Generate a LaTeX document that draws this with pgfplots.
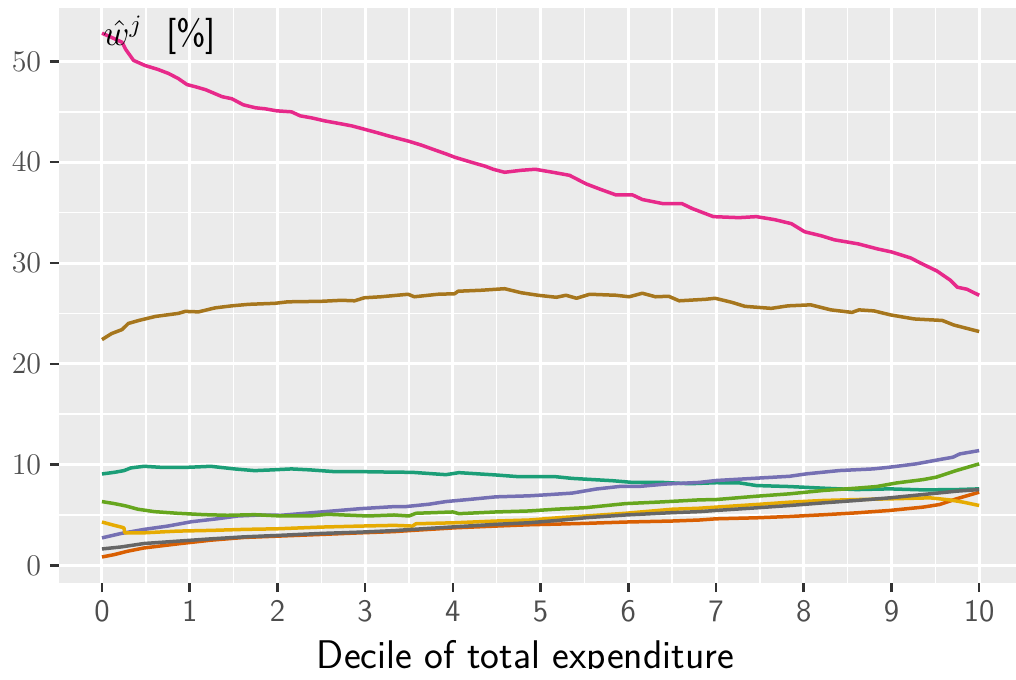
\documentclass[border=0pt]{standalone}
\usepackage{pgfplots}
\pgfplotsset{compat=1.18}
\definecolor{bgc}{HTML}{EBEBEB}
\definecolor{cpink}{HTML}{E7298A}
\definecolor{cbrown}{HTML}{A6761D}
\definecolor{cteal}{HTML}{1B9E77}
\definecolor{cgreen}{HTML}{66A61E}
\definecolor{cpurple}{HTML}{7570B3}
\definecolor{cyellow}{HTML}{E6AB02}
\definecolor{corange}{HTML}{D95F02}
\definecolor{cgray}{HTML}{666666}
\definecolor{ticklab}{HTML}{4D4D4D}
\definecolor{tickc}{HTML}{333333}
\begin{document}
\begin{tikzpicture}
\useasboundingbox (-23.6pt,-38.4pt) rectangle (382.8pt,233.2pt);
\begin{axis}[
  at={(0pt,0pt)}, anchor=south west,
  scale only axis, width=382.8pt, height=230pt,
  xmin=-0.49, xmax=10.42, ymin=-1.75, ymax=55.3,
  axis background/.style={fill=bgc},
  axis line style={draw=none},
  xtick={0,1,...,10}, xticklabels={0,1,2,3,4,5,6,7,8,9,10},
  ytick={0,10,20,30,40,50},
  minor xtick={0.5,1.5,...,9.5}, minor ytick={5,15,25,35,45},
  grid=both,
  major grid style={white, line width=1.2pt},
  minor grid style={white, line width=0.6pt},
  tick align=outside, tick pos=left,
  major tick length=3.6pt, minor tick length=0pt,
  tick style={tickc, line width=1pt},
  xticklabel style={font=\fontsize{12.5}{14}\sffamily, text=ticklab},
  yticklabel style={font=\fontsize{11.5}{13}\selectfont, text=ticklab},
  every axis plot/.append style={line width=1.4pt, line join=round},
  clip=true,
]
\addplot[cteal] coordinates {(0,9.07)(0.14,9.23)(0.25,9.4)(0.33,9.67)(0.48,9.83)(0.67,9.73)(0.98,9.73)(1.24,9.83)(1.51,9.57)(1.74,9.4)(1.93,9.47)(2.16,9.57)(2.38,9.47)(2.65,9.3)(2.95,9.3)(3.16,9.27)(3.54,9.23)(3.92,9.0)(4.07,9.2)(4.49,8.97)(4.75,8.8)(5.17,8.8)(5.36,8.63)(5.82,8.4)(6.05,8.23)(6.39,8.23)(6.70,8.1)(7.0,8.2)(7.27,8.18)(7.46,7.92)(7.84,7.82)(8.22,7.66)(8.60,7.52)(8.98,7.59)(9.36,7.49)(9.74,7.52)(10,7.59)};
\addplot[corange] coordinates {(0,0.83)(0.14,1.07)(0.29,1.4)(0.48,1.73)(0.86,2.13)(1.24,2.5)(1.62,2.77)(2.0,2.9)(2.50,3.07)(2.95,3.23)(3.33,3.35)(3.54,3.47)(4.03,3.73)(4.49,3.9)(4.87,4.03)(5.21,4.1)(5.52,4.17)(5.97,4.3)(6.50,4.4)(6.81,4.5)(7.0,4.62)(7.46,4.72)(7.84,4.85)(8.22,5.02)(8.60,5.21)(8.98,5.45)(9.36,5.78)(9.55,6.04)(9.74,6.6)(10,7.26)};
\addplot[cpurple] coordinates {(0,2.73)(0.22,3.17)(0.48,3.57)(0.75,3.9)(1.02,4.33)(1.32,4.63)(1.55,4.9)(1.81,5.0)(2.04,4.97)(2.50,5.3)(2.95,5.63)(3.33,5.83)(3.46,5.83)(3.73,6.07)(3.92,6.33)(4.22,6.57)(4.49,6.8)(4.87,6.9)(5.06,7.0)(5.36,7.17)(5.63,7.57)(5.90,7.83)(6.12,7.83)(6.43,8.07)(6.81,8.23)(7.0,8.42)(7.46,8.65)(7.84,8.84)(8.03,9.08)(8.41,9.41)(8.79,9.57)(8.98,9.74)(9.28,10.07)(9.55,10.5)(9.70,10.73)(9.78,11.06)(10,11.39)};
\addplot[cpink] coordinates {(0,52.8)(0.08,52.5)(0.23,51.9)(0.27,51.2)(0.36,50.1)(0.49,49.6)(0.64,49.2)(0.76,48.8)(0.87,48.3)(0.97,47.7)(1.06,47.5)(1.18,47.2)(1.37,46.5)(1.48,46.3)(1.61,45.7)(1.75,45.4)(1.86,45.3)(1.99,45.1)(2.16,45.0)(2.26,44.6)(2.39,44.4)(2.54,44.1)(2.73,43.8)(2.85,43.6)(2.98,43.3)(3.15,42.9)(3.27,42.6)(3.49,42.1)(3.64,41.7)(3.80,41.2)(3.93,40.8)(4.02,40.5)(4.21,40.0)(4.37,39.6)(4.46,39.3)(4.59,39.0)(4.78,39.2)(4.94,39.3)(5.14,39.0)(5.33,38.7)(5.52,37.85)(5.67,37.35)(5.86,36.75)(6.05,36.75)(6.16,36.3)(6.39,35.9)(6.61,35.9)(6.73,35.4)(6.97,34.6)(7.26,34.5)(7.46,34.6)(7.67,34.3)(7.86,33.9)(8.01,33.1)(8.20,32.7)(8.35,32.3)(8.62,31.9)(8.84,31.4)(9.00,31.1)(9.22,30.5)(9.33,30.0)(9.52,29.2)(9.67,28.3)(9.75,27.6)(9.86,27.4)(10,26.8)};
\addplot[cgreen] coordinates {(0,6.33)(0.14,6.13)(0.27,5.9)(0.41,5.57)(0.60,5.33)(0.86,5.17)(1.17,5.03)(1.43,4.97)(1.74,5.03)(2.04,4.9)(2.38,4.9)(2.57,5.07)(3.03,4.9)(3.33,5.0)(3.5,4.9)(3.58,5.17)(4.0,5.3)(4.07,5.13)(4.49,5.3)(4.87,5.4)(5.17,5.57)(5.52,5.73)(5.97,6.13)(6.39,6.3)(6.81,6.5)(7.0,6.53)(7.46,6.86)(7.84,7.1)(8.22,7.43)(8.60,7.66)(8.83,7.82)(9.06,8.18)(9.36,8.51)(9.51,8.75)(9.74,9.41)(10,10.07)};
\addplot[cyellow] coordinates {(0,4.3)(0.14,3.97)(0.25,3.73)(0.26,3.23)(0.48,3.23)(0.86,3.4)(1.24,3.47)(1.62,3.57)(2.0,3.63)(2.50,3.8)(2.95,3.9)(3.33,3.97)(3.54,3.9)(3.58,4.13)(4.03,4.23)(4.49,4.4)(4.87,4.5)(5.21,4.73)(5.52,4.9)(5.97,5.17)(6.50,5.57)(6.81,5.67)(7.0,5.78)(7.46,6.04)(7.84,6.27)(8.22,6.44)(8.60,6.53)(8.98,6.6)(9.44,6.7)(9.66,6.5)(9.82,6.27)(10,5.94)};
\addplot[cbrown] coordinates {(0,22.4)(0.11,23.0)(0.23,23.4)(0.30,24.0)(0.42,24.3)(0.61,24.7)(0.87,25.0)(0.95,25.2)(1.10,25.15)(1.29,25.55)(1.48,25.75)(1.67,25.9)(1.97,26.0)(2.12,26.15)(2.50,26.2)(2.73,26.3)(2.88,26.25)(2.99,26.55)(3.18,26.65)(3.49,26.9)(3.56,26.65)(3.83,26.9)(4.02,26.95)(4.06,27.2)(4.33,27.3)(4.59,27.45)(4.78,27.05)(4.97,26.8)(5.18,26.6)(5.29,26.8)(5.41,26.5)(5.56,26.9)(5.86,26.8)(6.01,26.65)(6.16,27.0)(6.31,26.65)(6.46,26.7)(6.58,26.25)(6.88,26.4)(6.99,26.5)(7.18,26.1)(7.33,25.7)(7.63,25.5)(7.82,25.75)(8.08,25.85)(8.31,25.35)(8.55,25.1)(8.63,25.35)(8.80,25.25)(8.99,24.85)(9.26,24.45)(9.58,24.3)(9.71,23.85)(10,23.2)};
\addplot[cgray] coordinates {(0,1.63)(0.22,1.83)(0.48,2.17)(0.86,2.4)(1.24,2.63)(1.62,2.83)(2.0,2.97)(2.50,3.17)(2.95,3.3)(3.33,3.45)(3.54,3.57)(4.03,3.83)(4.49,4.07)(4.87,4.23)(5.21,4.47)(5.52,4.73)(5.97,5.0)(6.50,5.23)(6.81,5.33)(7.0,5.45)(7.46,5.71)(7.84,5.94)(8.22,6.2)(8.60,6.44)(8.98,6.7)(9.36,7.03)(9.74,7.36)(10,7.52)};
\node[anchor=base west, inner sep=0pt, font=\fontsize{14.5}{16}\selectfont] at (axis cs:0.01,51.6) {$\hat{w}^{j}$ \ \textsf{[\%]}};
\end{axis}
\begin{scope}
\clip (-23.6pt,-34.3pt) rectangle (382.8pt,0pt);
\node[anchor=base, inner sep=0pt, font=\fontsize{16}{18}\sffamily] at (186.6pt,-34.3pt) {Decile of total expenditure};
\end{scope}
\end{tikzpicture}
\end{document}
